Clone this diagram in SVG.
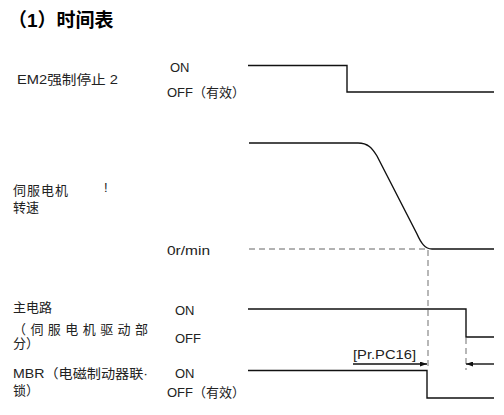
<svg xmlns="http://www.w3.org/2000/svg" width="504" height="415" viewBox="0 0 504 415">
<style>
text{font-family:"Liberation Sans","Noto Sans CJK SC",sans-serif;fill:#222;font-size:13px}
.title{font-size:19px;font-weight:bold;fill:#000}
.sig{fill:none;stroke:#111;stroke-width:1.4}
.dash{fill:none;stroke:#999;stroke-width:1.4;stroke-dasharray:6 4}
</style>
<defs>
<marker id="ah" viewBox="0 0 7 5" refX="7" refY="2.5" markerWidth="7" markerHeight="5" markerUnits="userSpaceOnUse" orient="auto">
<path d="M0,0 L7,2.5 L0,5 Z" fill="#111"/>
</marker>
</defs>
<text class="title" x="8" y="27">（1）时间表</text>

<g id="em2">
<text x="17" y="84" textLength="101" lengthAdjust="spacingAndGlyphs">EM2强制停止 2</text>
<text x="170" y="72">ON</text>
<text x="167" y="97">OFF（有效）</text>
</g>

<g id="speed">
<text x="13" y="195" font-size="14" letter-spacing="1">伺服电机</text>
<text x="13" y="212" font-size="14">转速</text>
<text x="104" y="192" font-size="9" fill="#999">!</text>
<text x="167" y="255" font-size="12" textLength="43" lengthAdjust="spacingAndGlyphs" fill="#444">0r/min</text>
</g>

<g id="main">
<text x="13" y="312" font-size="14">主电路</text>
<text x="13" y="334" font-size="14" textLength="135" lengthAdjust="spacing">（伺服电机驱动部</text>
<text x="13" y="348" font-size="14">分）</text>
<text x="175" y="315">ON</text>
<text x="175" y="343">OFF</text>
</g>

<g id="mbr">
<text x="13" y="378" textLength="135" lengthAdjust="spacingAndGlyphs">MBR（电磁制动器联·</text>
<text x="13" y="395" font-size="14">锁）</text>
<text x="175" y="378">ON</text>
<text x="167" y="397">OFF（有效）</text>
</g>

<g id="label">
<text x="353" y="359" font-size="12.5" textLength="63" lengthAdjust="spacingAndGlyphs">[Pr.PC16]</text>
</g>

<g id="connectors">
<path class="sig" d="M248,65.5 H347 V92 H494"/>
<path class="sig" d="M249,143 H358 C368,143 372,148 377,156 L417,234 C421,243 425,249 432,249 H494" stroke="#444"/>
<path class="dash" d="M249,249 H428"/>
<path class="dash" d="M428,250 V370"/>
<path class="dash" d="M466,338 V370"/>
<path class="sig" d="M248,309 H466 V337 H494"/>
<path class="sig" d="M248,370.5 H427 V398 H494"/>
<path class="sig" d="M353,364 H427" marker-end="url(#ah)"/>
<path class="sig" d="M494,364 H466" marker-end="url(#ah)"/>
</g>
</svg>
